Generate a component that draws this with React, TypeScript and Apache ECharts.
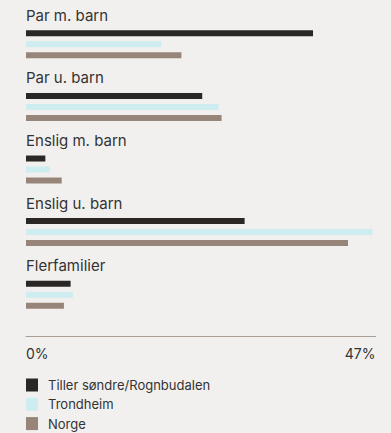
import React, { useEffect, useRef } from "react";
import * as echarts from "echarts";

const categories = ["Par m. barn", "Par u. barn", "Enslig m. barn", "Enslig u. barn", "Flerfamilier"];
const seriesNames = ["Tiller søndre/Rognbudalen", "Trondheim", "Norge"];
const tiller = [38.6, 23.7, 2.6, 29.4, 6.0];
const trondheim = [18.2, 25.9, 3.2, 46.6, 6.3];
const norge = [20.9, 26.3, 4.8, 43.3, 5.1];
const axisMax = 47;
const colors = ["#2b2724", "#cdedf1", "#988579"];

const FONT = "Inter, 'Noto Sans', sans-serif";

export default function App() {
  const ref = useRef<HTMLDivElement>(null);
  useEffect(() => {
    document.body.style.margin = "0";
    const chart = echarts.init(ref.current!, undefined, { renderer: "svg" });
    const values = [tiller, trondheim, norge];
    chart.setOption({
      animation: false,
      backgroundColor: "#f2f0ee",
      textStyle: { fontFamily: FONT },
      grid: { left: 26, right: 15.5, top: 13, bottom: 107, containLabel: false },
      legend: {
        orient: "vertical",
        left: 26,
        top: 378.5,
        padding: 0,
        icon: "rect",
        itemWidth: 12,
        itemHeight: 13,
        itemGap: 6.3,
        data: seriesNames,
        textStyle: { fontFamily: FONT, fontSize: 13, color: "#333333", lineHeight: 13, padding: [0, 0, 0, 5] },
      },
      xAxis: {
        type: "value",
        min: 0,
        max: axisMax,
        interval: axisMax,
        offset: 10,
        splitLine: { show: false },
        axisTick: { show: false },
        axisLine: { show: true, lineStyle: { color: "#ab9e95", width: 1 } },
        axisLabel: {
          formatter: "{value}%",
          fontFamily: FONT,
          fontSize: 14,
          color: "#333333",
          margin: 10,
          alignMinLabel: "left",
          alignMaxLabel: "right",
        },
      },
      yAxis: {
        type: "category",
        data: categories,
        inverse: true,
        axisLine: { show: false },
        axisTick: { show: false },
        splitLine: { show: false },
        axisLabel: {
          inside: true,
          margin: 0,
          align: "left",
          verticalAlign: "bottom",
          padding: [0, 0, 20, 0],
          fontFamily: FONT,
          fontSize: 15,
          lineHeight: 18,
          color: "#333333",
        },
      },
      series: seriesNames.map((name, i) => ({
        name,
        type: "bar",
        data: values[i],
        barWidth: 6,
        barGap: "83%",
        itemStyle: { color: colors[i] },
      })),
    });
    return () => chart.dispose();
  }, []);
  return <div ref={ref} style={{ width: 391, height: 433 }} />;
}
